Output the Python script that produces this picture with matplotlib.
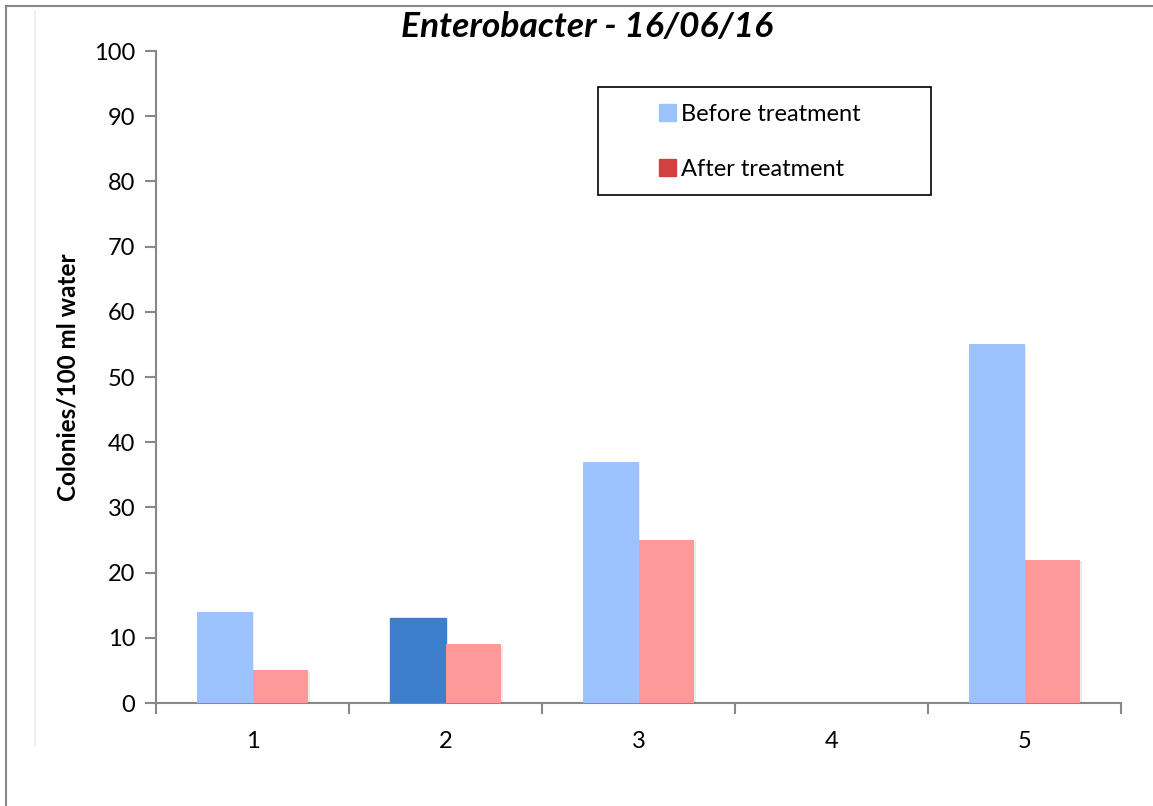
import numpy as np
import matplotlib.pyplot as plt
import matplotlib.patheffects as pe
from matplotlib.patches import Patch, Rectangle

plt.rcParams['font.family'] = ['Lato', 'DejaVu Sans']

categories = ['1', '2', '3', '4', '5']
before = [14, 13, 37, 0, 55]
after = [5, 9, 25, 0, 22]
title = 'Enterobacter - 16/06/16'
ylabel = 'Colonies/100 ml water'

before_color = '#9DC3FF'
highlight_color = '#3D7FCC'
after_color = '#FF9999'
legend_after_color = '#D44040'
spine_color = '#888888'

fig = plt.figure(figsize=(11.53, 8.06), dpi=100)
ax = fig.add_axes([156 / 1153, 1 - 703 / 806, 965 / 1153, 652 / 806])

x = np.arange(len(categories)) + 1
w = 0.29
shadow = [pe.SimplePatchShadow(offset=(1, -1), shadow_rgbFace='#000000', alpha=0.08), pe.Normal()]

b1 = ax.bar(x - w / 2, before, w, color=before_color, zorder=3)
b2 = ax.bar(x + w / 2, after, w, color=after_color, zorder=3)
b1[1].set_color(highlight_color)
for bar in list(b1) + list(b2):
    if bar.get_height() > 0:
        bar.set_path_effects(shadow)

ax.set_xlim(0.5, 5.5)
ax.set_ylim(0, 100)
ax.set_yticks(np.arange(0, 101, 10))
ax.set_xticks(np.arange(0.5, 5.6, 1))
ax.set_xticklabels([])
ax.set_xticks(x, minor=True)
ax.set_xticklabels(categories, minor=True)
ax.tick_params(axis='x', which='major', direction='out', length=8, width=1.5, color=spine_color)
ax.tick_params(axis='x', which='minor', length=0, labelsize=17, pad=20)
ax.tick_params(axis='y', direction='out', length=8, width=1.5, color=spine_color, labelsize=17, pad=7)

for s in ['top', 'right']:
    ax.spines[s].set_visible(False)
for s in ['left', 'bottom']:
    ax.spines[s].set_color(spine_color)
    ax.spines[s].set_linewidth(1.5)

fig.text(68 / 1153, 1 - 377 / 806, ylabel, rotation=90, ha='center', va='center',
         fontsize=17.5, fontweight='bold')
fig.text(587 / 1153, 1 - 27 / 806, title, ha='center', va='center',
         fontsize=25.5, fontweight='bold', style='italic')

# legend entries without frame, frame drawn separately
handles = [Patch(color=before_color), Patch(color=legend_after_color)]
leg = fig.legend(handles, ['Before treatment', 'After treatment'],
                 loc='upper left', bbox_to_anchor=(659 / 1153, 1 - 104 / 806),
                 fontsize=17, frameon=False,
                 handlelength=0.7, handleheight=0.7, handletextpad=0.25,
                 labelspacing=1.42, borderpad=0, borderaxespad=0)
fig.add_artist(Rectangle((598 / 1153, 1 - 195 / 806), 333 / 1153, 108 / 806,
                         transform=fig.transFigure, fill=False, edgecolor='black', linewidth=1.2))

# outer chart border
fig.add_artist(Rectangle((6 / 1153, -0.1), 1.2, 1 - 6 / 806 + 0.1, transform=fig.transFigure,
                         fill=False, edgecolor='#888888', linewidth=1.5))
fig.add_artist(plt.Line2D([35 / 1153, 35 / 1153], [1 - 745 / 806, 1 - 12 / 806],
                          transform=fig.transFigure, color='#eeeeee', linewidth=1.5))

fig.savefig('out.png', dpi=100)
